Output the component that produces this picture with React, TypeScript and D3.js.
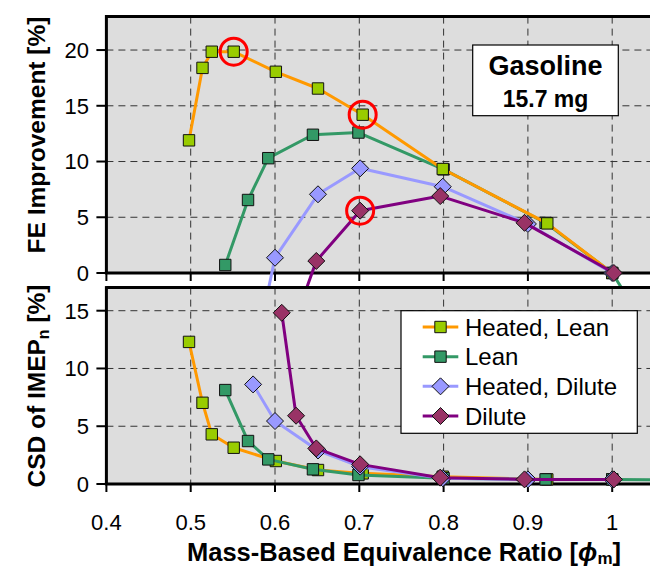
import React from 'react';
import * as d3 from 'd3';

// series data (phi_m, FE improvement %, CSD of IMEPn %)
const seriesNames = ['Heated, Lean', 'Lean', 'Heated, Dilute', 'Dilute'];

const phiHeatedLean = [0.498, 0.514, 0.525, 0.551, 0.601, 0.651, 0.704, 0.799, 0.923, 1.0];
const feHeatedLean = [11.9, 18.4, 19.85, 19.85, 18.05, 16.55, 14.2, 9.33, 4.45, 0];
const csdHeatedLean = [12.3, 7.03, 4.3, 3.14, 1.99, 1.21, 0.92, 0.63, 0.4, 0.4];

const phiLean = [0.541, 0.568, 0.592, 0.645, 0.699, 0.8, 0.921, 1.0, 1.1];
const feLean = [0.72, 6.55, 10.3, 12.4, 12.6, 9.3, 4.5, 0, -12];
const csdLean = [8.13, 3.72, 2.13, 1.27, 0.78, 0.5, 0.4, 0.4, 0.35];

const phiHeatedDilute = [0.574, 0.6, 0.651, 0.701, 0.799, 0.9, 1.0];
const feHeatedDilute = [-8, 1.37, 7.06, 9.39, 7.74, 4.4, 0];
const csdHeatedDilute = [8.62, 5.45, 2.9, 1.5, 0.5, 0.4, 0.4];

const phiDilute = [0.608, 0.625, 0.649, 0.701, 0.796, 0.896, 1.002];
const feDilute = [-10, -4, 1.08, 5.59, 6.9, 4.5, 0];
const csdDilute = [14.82, 5.91, 3.08, 1.7, 0.55, 0.4, 0.4];

// highlighted FE points: [series index, point index]
const highlighted: [number, number][] = [[0, 3], [0, 6], [3, 3]];

const xTicks = [0.4, 0.5, 0.6, 0.7, 0.8, 0.9, 1.0];
const feTicks = [0, 5, 10, 15, 20];
const csdTicks = [0, 5, 10, 15];

type Pt = { phi: number; v: number };
const zip = (phi: number[], v: number[]): Pt[] => phi.map((p, i) => ({ phi: p, v: v[i] }));

const fePts = [
  zip(phiHeatedLean, feHeatedLean),
  zip(phiLean, feLean),
  zip(phiHeatedDilute, feHeatedDilute),
  zip(phiDilute, feDilute),
];
const csdPts = [
  zip(phiHeatedLean, csdHeatedLean),
  zip(phiLean, csdLean),
  zip(phiHeatedDilute, csdHeatedDilute),
  zip(phiDilute, csdDilute),
];

const styles = [
  { stroke: '#FF9900', fill: '#99CC00', shape: 'square' },
  { stroke: '#339966', fill: '#339966', shape: 'square' },
  { stroke: '#9999FF', fill: '#9999FF', shape: 'diamond' },
  { stroke: '#800080', fill: '#993366', shape: 'diamond' },
];

const FONT = '"Liberation Sans", Arial, sans-serif';
const plotLeft = 106.4;
const plotRight = 696.5;
const x = d3.scaleLinear().domain([0.4, 1.1]).range([plotLeft, plotRight]);
const yFe = d3.scaleLinear().domain([0, 23]).range([273, 16.6]);
const yCsd = d3.scaleLinear().domain([0, 17]).range([484, 287.6]);

const markerPath = (shape: string, cx: number, cy: number) => {
  if (shape === 'square') {
    const h = 5.7;
    return `M${cx - h},${cy - h}h${2 * h}v${2 * h}h${-2 * h}Z`;
  }
  const r = 8.5;
  return `M${cx},${cy - r}L${cx + r},${cy}L${cx},${cy + r}L${cx - r},${cy}Z`;
};

interface PanelProps {
  y: d3.ScaleLinear<number, number>;
  ticks: number[];
  pts: Pt[][];
  order: number[];
  clipId: string;
  clipBottom: number;
  circles?: [number, number][];
}

const Panel: React.FC<PanelProps> = ({ y, ticks, pts, order, clipId, clipBottom, circles }) => {
  const [y0, y1] = y.range();
  const [, yMax] = y.domain();
  const line = d3.line<Pt>().x(d => x(d.phi)).y(d => y(d.v));
  return (
    <g>
      <defs>
        <clipPath id={clipId}>
          <rect x={plotLeft} y={y1} width={plotRight - plotLeft} height={clipBottom - y1} />
        </clipPath>
      </defs>
      <rect x={plotLeft} y={y1} width={plotRight - plotLeft} height={y0 - y1} fill="#DDDDDD" />
      {/* grid */}
      {xTicks.filter(t => t > 0.4).map(t => (
        <line key={'gx' + t} x1={x(t)} x2={x(t)} y1={y1} y2={y0}
          stroke="#333" strokeWidth={1} strokeDasharray="7,5" />
      ))}
      {ticks.filter(t => t > 0).map(t => (
        <line key={'gy' + t} x1={plotLeft} x2={plotRight} y1={y(t)} y2={y(t)}
          stroke="#333" strokeWidth={1} strokeDasharray="7,5" />
      ))}
      {/* axes */}
      <line x1={plotLeft} x2={plotRight} y1={y1} y2={y1} stroke="#000" strokeWidth={3} />
      <line x1={plotLeft - 1.5} x2={plotRight} y1={y0} y2={y0} stroke="#000" strokeWidth={3} />
      <line x1={plotLeft} x2={plotLeft} y1={y1 - 1.5} y2={y0} stroke="#000" strokeWidth={3} />
      {ticks.map(t => (
        <g key={'ty' + t}>
          <line x1={plotLeft - 10} x2={plotLeft} y1={y(t)} y2={y(t)} stroke="#000" strokeWidth={2} />
          <text x={89} y={y(t)} dy="0.36em" textAnchor="end" fontSize={22} fontFamily={FONT}>{t}</text>
        </g>
      ))}
      {xTicks.map(t => (
        <line key={'tx' + t} x1={x(t)} x2={x(t)} y1={y0} y2={y0 + 8} stroke="#000" strokeWidth={2} />
      ))}
      {/* series */}
      {order.map(i => (
        <g key={'s' + i}>
          <path d={line(pts[i]) || ''} fill="none" stroke={styles[i].stroke} strokeWidth={3}
            strokeLinejoin="round" clipPath={`url(#${clipId})`} />
          {pts[i].filter(d => d.v >= 0 && d.v <= yMax && d.phi <= 1.05).map((d, k) => (
            <path key={k} d={markerPath(styles[i].shape, x(d.phi), y(d.v))}
              fill={styles[i].fill} stroke="#111" strokeWidth={1} />
          ))}
        </g>
      ))}
      {circles && circles.map(([s, k]) => (
        <circle key={`c${s}-${k}`} cx={x(pts[s][k].phi)} cy={y(pts[s][k].v)} r={13.5}
          fill="none" stroke="#FF0000" strokeWidth={3} />
      ))}
    </g>
  );
};

const legendY = d3.scalePoint<string>().domain(seriesNames).range([327, 416]);

export default function App() {
  return (
    <svg width={650} height={569} style={{ position: 'absolute', left: 0, top: 0, background: '#fff' }}
      fontFamily={FONT}>
      <Panel y={yFe} ticks={feTicks} pts={fePts} order={[1, 0, 2, 3]} clipId="clipFe"
        clipBottom={287} circles={highlighted} />
      <Panel y={yCsd} ticks={csdTicks} pts={csdPts} order={[0, 1, 2, 3]} clipId="clipCsd"
        clipBottom={484} />

      {/* x tick labels */}
      {xTicks.map(t => (
        <text key={'xl' + t} x={x(t)} y={530} textAnchor="middle" fontSize={22}>{t === 1 ? '1' : t.toFixed(1)}</text>
      ))}

      {/* axis titles */}
      <text x={404} y={561} textAnchor="middle" fontSize={25.5} fontWeight="bold">
        Mass-Based Equivalence Ratio [<tspan fontStyle="italic">ϕ</tspan>
        <tspan fontSize={17} dy={3}>m</tspan><tspan dy={-3}>]</tspan>
      </text>
      <text transform="translate(45,135) rotate(-90)" textAnchor="middle" fontSize={24.5} fontWeight="bold">
        FE Improvement [%]
      </text>
      <text transform="translate(45,386) rotate(-90)" textAnchor="middle" fontSize={24.5} fontWeight="bold">
        CSD of IMEP<tspan fontSize={16} dy={4}>n</tspan><tspan dy={-4}> [%]</tspan>
      </text>

      {/* annotation box */}
      <rect x={472.7} y={45} width={145.6} height={70.7} fill="#fff" stroke="#000" strokeWidth={1.2} />
      <text x={545.5} y={74.5} textAnchor="middle" fontSize={27} fontWeight="bold">Gasoline</text>
      <text x={545.5} y={106.5} textAnchor="middle" fontSize={23} fontWeight="bold">15.7 mg</text>

      {/* legend */}
      <rect x={401} y={310.7} width={236.3} height={122.6} fill="#fff" stroke="#000" strokeWidth={1.2} />
      {seriesNames.map((name, i) => {
        const ly = legendY(name) as number;
        return (
          <g key={'lg' + i}>
            <line x1={422.7} x2={458.3} y1={ly} y2={ly} stroke={styles[i].stroke} strokeWidth={3} />
            <path d={markerPath(styles[i].shape, 440.5, ly)} fill={styles[i].fill} stroke="#111" strokeWidth={1} />
            <text x={465} y={ly} dy="0.36em" fontSize={24}>{name}</text>
          </g>
        );
      })}
    </svg>
  );
}
